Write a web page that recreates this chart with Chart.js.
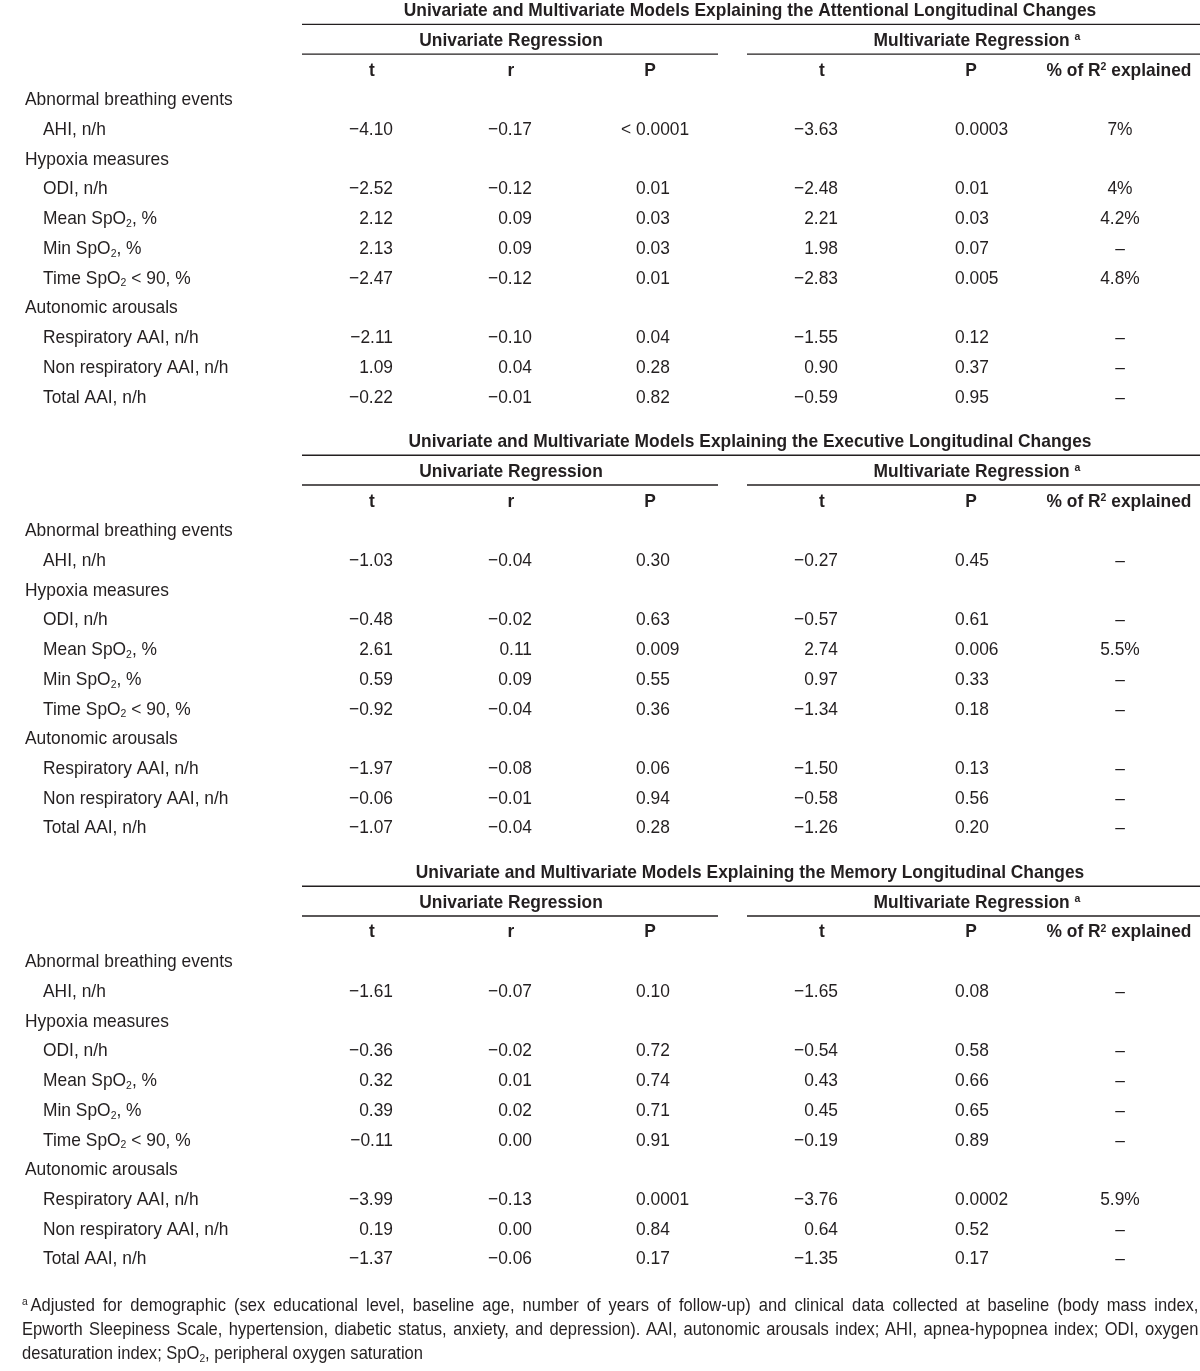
<!DOCTYPE html>
<html>
<head>
<meta charset="utf-8">
<script src="https://cdn.jsdelivr.net/npm/chart.js@4.4.1/dist/chart.umd.min.js"></script>
<style>
body { margin: 0; background: #fff; }
#wrap { position: relative; width: 1200px; height: 1371px; }
#note {
    position: absolute; left: 22px; top: 1293px; width: 1265px;
    transform: scaleX(0.93); transform-origin: 0 0;
    font: 17.8px "Liberation Sans", Arial, sans-serif; color: #231f20; line-height: 24px;
}
#note div { text-align: justify; text-align-last: justify; white-space: nowrap; }
#note div.last { text-align-last: left; }
#note sup { font-size: 11px; vertical-align: 6px; line-height: 0; margin-right: 3px; }
#note sub { font-size: 11px; vertical-align: -3px; line-height: 0; }
</style>
</head>
<body>
<div id="wrap">
  <canvas id="tbl"></canvas>
  <div id="note">
    <div><sup>a</sup>Adjusted for demographic (sex educational level, baseline age, number of years of follow-up) and clinical data collected at baseline (body mass index,</div>
    <div>Epworth Sleepiness Scale, hypertension, diabetic status, anxiety, and depression). AAI, autonomic arousals index; AHI, apnea-hypopnea index; ODI, oxygen</div>
    <div class="last">desaturation index; SpO<sub>2</sub>, peripheral oxygen saturation</div>
  </div>
</div>
<script>
// table text
const blockTitles = [
    "Univariate and Multivariate Models Explaining the Attentional Longitudinal Changes",
    "Univariate and Multivariate Models Explaining the Executive Longitudinal Changes",
    "Univariate and Multivariate Models Explaining the Memory Longitudinal Changes"
];
const regressionHeads = ["Univariate Regression", "Multivariate Regression ᵃ"];
const colHeads = ["t", "r", "P", "t", "P", "% of R² explained"];
const groups = ["Abnormal breathing events", "Hypoxia measures", "Autonomic arousals"];
const measures = ["AHI, n/h", "ODI, n/h", "Mean SpO₂, %", "Min SpO₂, %", "Time SpO₂ < 90, %",
    "Respiratory AAI, n/h", "Non respiratory AAI, n/h", "Total AAI, n/h"];
const measureGroup = [0, 1, 1, 1, 1, 2, 2, 2];

// Attentional
const attT  = [-4.10, -2.52, 2.12, 2.13, -2.47, -2.11, 1.09, -0.22];
const attR  = [-0.17, -0.12, 0.09, 0.09, -0.12, -0.10, 0.04, -0.01];
const attP  = ["< 0.0001", "0.01", "0.03", "0.03", "0.01", "0.04", "0.28", "0.82"];
const attTm = [-3.63, -2.48, 2.21, 1.98, -2.83, -1.55, 0.90, -0.59];
const attPm = ["0.0003", "0.01", "0.03", "0.07", "0.005", "0.12", "0.37", "0.95"];
const attR2 = ["7%", "4%", "4.2%", "–", "4.8%", "–", "–", "–"];

// Executive
const exeT  = [-1.03, -0.48, 2.61, 0.59, -0.92, -1.97, -0.06, -1.07];
const exeR  = [-0.04, -0.02, 0.11, 0.09, -0.04, -0.08, -0.01, -0.04];
const exeP  = ["0.30", "0.63", "0.009", "0.55", "0.36", "0.06", "0.94", "0.28"];
const exeTm = [-0.27, -0.57, 2.74, 0.97, -1.34, -1.50, -0.58, -1.26];
const exePm = ["0.45", "0.61", "0.006", "0.33", "0.18", "0.13", "0.56", "0.20"];
const exeR2 = ["–", "–", "5.5%", "–", "–", "–", "–", "–"];

// Memory
const memT  = [-1.61, -0.36, 0.32, 0.39, -0.11, -3.99, 0.19, -1.37];
const memR  = [-0.07, -0.02, 0.01, 0.02, 0.00, -0.13, 0.00, -0.06];
const memP  = ["0.10", "0.72", "0.74", "0.71", "0.91", "0.0001", "0.84", "0.17"];
const memTm = [-1.65, -0.54, 0.43, 0.45, -0.19, -3.76, 0.64, -1.35];
const memPm = ["0.08", "0.58", "0.66", "0.65", "0.89", "0.0002", "0.52", "0.17"];
const memR2 = ["–", "–", "–", "–", "–", "5.9%", "–", "–"];

const blocks = [
    [attT, attR, attP, attTm, attPm, attR2],
    [exeT, exeR, exeP, exeTm, exePm, exeR2],
    [memT, memR, memP, memTm, memPm, memR2]
];

// layout (x in table units, y in row units)
const COLS = [
    { x: 393, align: "right", head: 372 },
    { x: 532, align: "right", head: 511 },
    { x: 636, align: "left", head: 650 },
    { x: 838, align: "right", head: 822 },
    { x: 955, align: "left", head: 971 },
    { x: 1120, align: "center", head: 1119 }
];
const BLOCK_STEP = 14.5;
const ROW_PX = 29.72, FIRST_ROW_PX = 9.5, H = 1371;
const FS = 18.6, SX = 0.935, INK = "#231f20";

function fmt(v) {
    if (typeof v === "string") return v;
    return v.toFixed(2).replace("-", "−");
}

// row positions of group and measure lines within a block
let measureRows = [], groupRows = [];
let row = 3, lastGroup = -1;
measures.forEach((m, i) => {
    if (measureGroup[i] !== lastGroup) {
        groupRows.push(row);
        lastGroup = measureGroup[i];
        row++;
    }
    measureRows.push(row);
    row++;
});

function textSet(points, texts, align, bold) {
    return { type: "scatter", data: points, texts: texts, align: align, bold: bold,
             pointRadius: 0, pointHoverRadius: 0 };
}
function rule(x1, x2, y) {
    return { type: "line", data: [{ x: x1, y: y }, { x: x2, y: y }], showLine: true,
             borderColor: INK, borderWidth: 1.4, pointRadius: 0, fill: false };
}

let datasets = [];
blocks.forEach((cols, b) => {
    const off = b * BLOCK_STEP;
    datasets.push(textSet([{ x: 750, y: off }], [blockTitles[b]], "center", true));
    datasets.push(rule(302, 1200, off + 0.5));
    datasets.push(textSet([{ x: 511, y: off + 1 }, { x: 977, y: off + 1 }], regressionHeads, "center", true));
    datasets.push(rule(302, 718, off + 1.5));
    datasets.push(rule(747, 1200, off + 1.5));
    datasets.push(textSet(COLS.map(c => ({ x: c.head, y: off + 2 })), colHeads, "center", true));
    datasets.push(textSet(groupRows.map(r => ({ x: 25, y: off + r })), groups, "left", false));
    datasets.push(textSet(measureRows.map(r => ({ x: 43, y: off + r })), measures, "left", false));
    cols.forEach((vals, c) => {
        datasets.push(textSet(measureRows.map(r => ({ x: COLS[c].x, y: off + r })),
            vals.map(fmt), COLS[c].align, false));
    });
});

// draws a string with ₂ / ² / ᵃ as small sub/superscripts, slightly condensed
function drawRich(ctx, str, x, y, align, bold) {
    const fam = 'px "Liberation Sans", Arial, sans-serif';
    const base = (bold ? "bold " : "") + FS + fam;
    const small = (bold ? "bold " : "") + (FS * 0.6).toFixed(1) + fam;
    let segs = [];
    for (const ch of str) {
        let kind = "n", t = ch;
        if (ch === "₂") { kind = "sub"; t = "2"; }
        else if (ch === "²") { kind = "sup"; t = "2"; }
        else if (ch === "ᵃ") { kind = "sup"; t = "a"; }
        const last = segs[segs.length - 1];
        if (last && last.kind === kind) last.t += t;
        else segs.push({ kind: kind, t: t });
    }
    let w = 0;
    segs.forEach(s => {
        ctx.font = s.kind === "n" ? base : small;
        s.w = ctx.measureText(s.t).width;
        w += s.w;
    });
    w *= SX;
    let x0 = align === "right" ? x - w : align === "center" ? x - w / 2 : x;
    // a leading "< " hangs to the left of a left-aligned column
    if (align === "left" && str.startsWith("< ")) {
        ctx.font = base;
        x0 -= ctx.measureText("< ").width * SX;
    }
    ctx.save();
    ctx.translate(x0, y + FS * 0.358);
    ctx.scale(SX, 1);
    ctx.fillStyle = INK;
    ctx.textAlign = "left";
    ctx.textBaseline = "alphabetic";
    let cx = 0;
    segs.forEach(s => {
        ctx.font = s.kind === "n" ? base : small;
        const dy = s.kind === "sub" ? FS * 0.15 : s.kind === "sup" ? -FS * 0.3 : 0;
        ctx.fillText(s.t, cx, dy);
        cx += s.w;
    });
    ctx.restore();
}

const cellText = {
    id: "cellText",
    afterDatasetsDraw(chart) {
        const ctx = chart.ctx;
        chart.data.datasets.forEach((ds, i) => {
            if (!ds.texts) return;
            chart.getDatasetMeta(i).data.forEach((pt, j) => {
                drawRich(ctx, ds.texts[j], pt.x, pt.y, ds.align, ds.bold);
            });
        });
    }
};

const ctx = document.getElementById("tbl").getContext("2d");
const yMin = -FIRST_ROW_PX / ROW_PX;

new Chart(ctx, {
    type: "scatter",
    data: { datasets: datasets },
    options: {
        responsive: true,
        maintainAspectRatio: false,
        animation: false,
        events: [],
        layout: { padding: 0 },
        plugins: { legend: { display: false }, tooltip: { enabled: false } },
        scales: {
            x: { type: "linear", display: false, min: 0, max: 1200 },
            y: { type: "linear", display: false, reverse: true, min: yMin, max: yMin + H / ROW_PX }
        }
    },
    plugins: [cellText]
});
</script>
</body>
</html>
